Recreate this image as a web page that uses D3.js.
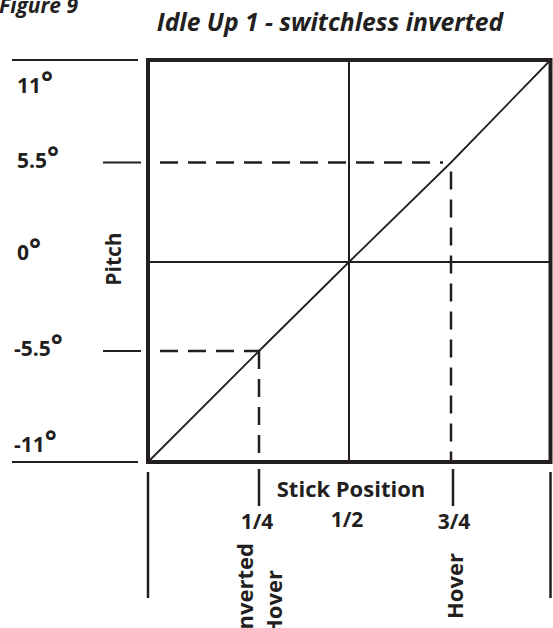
<!DOCTYPE html>
<html>
<head>
<meta charset="utf-8">
<script src="https://cdn.jsdelivr.net/npm/d3@7"></script>
<style>
  html, body { margin: 0; padding: 0; background: #fff; }
  svg { display: block; }
  text { font-family: "Open Sans", "Noto Sans", sans-serif; font-weight: 700; fill: #231f20; }
</style>
</head>
<body>
<svg id="chart" width="553" height="628"></svg>
<script>
// Stick position (fraction of travel) and pitch (degrees)
const stickTicks = [0.25, 0.5, 0.75];
const stickTickLabels = ["1/4", "1/2", "3/4"];
const pitchTicks = [11, 5.5, 0, -5.5, -11];
const pitchTickLabels = ["11", "5.5", "0", "-5.5", "-11"];
// Pitch curve: stick position -> pitch
const curveStick = [0, 0.25, 0.5, 0.75, 1];
const curvePitch = [-11, -5.5, 0, 5.5, 11];
// Marked operating points
const markStick = [0.25, 0.75];
const markPitch = [-5.5, 5.5];
const markNames = [["Inverted", "Hover"], ["Hover"]];

const ink = "#231f20";
const svg = d3.select("#chart");

const x = d3.scaleLinear().domain([0, 0.25, 0.5, 0.75, 1]).range([148, 259, 349, 451, 550.5]);
const y = d3.scaleLinear().domain([-11, -5.5, 0, 5.5, 11]).range([462, 351, 262, 162.5, 60]);

const x0 = x(0), x1 = x(1), yTop = y(11), yBot = y(-11);

// Title and figure number
svg.append("text").attr("x", -1).attr("y", 13)
  .style("font-style", "italic").style("font-size", "21px").text("Figure 9");
svg.append("text").attr("x", 330).attr("y", 31).attr("text-anchor", "middle")
  .style("font-style", "italic").style("font-size", "24.7px")
  .text("Idle Up 1 - switchless inverted");

// Centre cross lines
svg.append("line").attr("x1", x(0.5)).attr("x2", x(0.5)).attr("y1", yTop).attr("y2", yBot)
  .attr("stroke", ink).attr("stroke-width", 2);
svg.append("line").attr("x1", x0).attr("x2", x1).attr("y1", y(0)).attr("y2", y(0))
  .attr("stroke", ink).attr("stroke-width", 2);

// Dashed guides from the marked points to the axes
const dash = "18,10";
markStick.forEach((s, i) => {
  const px = x(s), py = y(markPitch[i]);
  svg.append("line").attr("x1", 160).attr("x2", s > 0.5 ? px - 8 : px)
    .attr("y1", py).attr("y2", py)
    .attr("stroke", ink).attr("stroke-width", 2.5).attr("stroke-dasharray", dash);
  svg.append("line").attr("x1", px).attr("x2", px)
    .attr("y1", s > 0.5 ? py + 9 : py).attr("y2", yBot)
    .attr("stroke", ink).attr("stroke-width", 2.5).attr("stroke-dasharray", dash);
});

// Pitch curve
svg.append("path")
  .datum(curveStick.map((s, i) => [s, curvePitch[i]]))
  .attr("fill", "none").attr("stroke", ink).attr("stroke-width", 1.8)
  .attr("d", d3.line().x(d => x(d[0])).y(d => y(d[1])));

// Frame
svg.append("rect").attr("x", x0).attr("y", yTop).attr("width", x1 - x0).attr("height", yBot - yTop)
  .attr("fill", "none").attr("stroke", ink).attr("stroke-width", 4);

// Pitch axis: guide lines and labels
pitchTicks.forEach((v, i) => {
  const ends = Math.abs(v) === 11;
  if (v !== 0) {
    svg.append("line").attr("x1", ends ? 12 : 103).attr("x2", ends ? 138 : 141)
      .attr("y1", y(v)).attr("y2", y(v)).attr("stroke", ink).attr("stroke-width", 2);
  }
  const off = v === 11 ? 33 : v === -11 ? -10 : (v === 0 ? -2 : 5);
  const t = svg.append("text").attr("x", v < 0 ? 14 : 17).attr("y", y(v) + off)
    .style("font-size", "21px");
  t.append("tspan").text(pitchTickLabels[i]);
  t.append("tspan").attr("dy", -1).style("font-size", "28px").text("°");
});
svg.append("text").attr("transform", `translate(121,${y(0) - 3}) rotate(-90)`)
  .attr("text-anchor", "middle").style("font-size", "21px").text("Pitch");

// Stick axis: long end lines, short marker lines, labels
[0, 1].forEach(s => {
  svg.append("line").attr("x1", x(s)).attr("x2", x(s)).attr("y1", 472).attr("y2", 598)
    .attr("stroke", ink).attr("stroke-width", 2.5);
});
markStick.forEach(s => {
  svg.append("line").attr("x1", x(s) + (s > 0.5 ? 2 : 0)).attr("x2", x(s) + (s > 0.5 ? 2 : 0))
    .attr("y1", 469).attr("y2", 506).attr("stroke", ink).attr("stroke-width", 2.5);
});
svg.append("text").attr("x", 351).attr("y", 497).attr("text-anchor", "middle")
  .style("font-size", "22px").text("Stick Position");
stickTicks.forEach((s, i) => {
  svg.append("text").attr("x", x(s) + (s === 0.5 ? -2 : s > 0.5 ? 3 : -2))
    .attr("y", s === 0.5 ? 527 : 529).attr("text-anchor", "middle")
    .style("font-size", "21px").text(stickTickLabels[i]);
});

// Rotated names under the marked points
const nameEnds = [[[253, 543], [282, 570]], [[463, 553]]];
markNames.forEach((names, i) => {
  names.forEach((n, j) => {
    const [bx, ey] = nameEnds[i][j];
    svg.append("text").attr("transform", `translate(${bx},${ey}) rotate(-90)`)
      .attr("text-anchor", "end").style("font-size", "22px").text(n);
  });
});
</script>
</body>
</html>
